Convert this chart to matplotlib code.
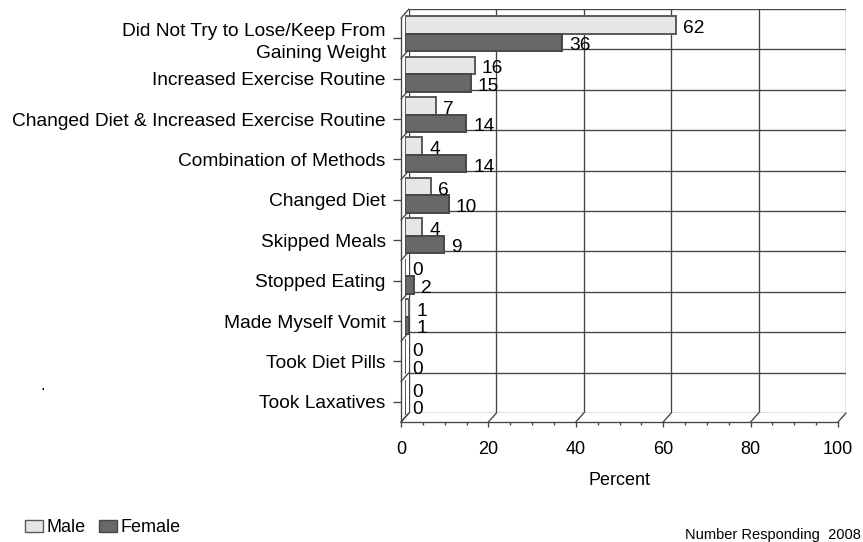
import matplotlib
matplotlib.use("Agg")
import matplotlib.pyplot as plt
from matplotlib.patches import Patch, ConnectionPatch
import numpy as np

plt.rcParams['font.family'] = ['Liberation Sans', 'DejaVu Sans']

categories = [
    "Did Not Try to Lose/Keep From\nGaining Weight",
    "Increased Exercise Routine",
    "Changed Diet & Increased Exercise Routine",
    "Combination of Methods",
    "Changed Diet",
    "Skipped Meals",
    "Stopped Eating",
    "Made Myself Vomit",
    "Took Diet Pills",
    "Took Laxatives",
]
male = [62, 16, 7, 4, 6, 4, 0, 1, 0, 0]
female = [36, 15, 14, 14, 10, 9, 2, 1, 0, 0]
x_ticks = [0, 20, 40, 60, 80, 100]

W, H = 863, 542
fig = plt.figure(figsize=(W / 100, H / 100), dpi=100)

GRID = "#444444"
MALE_FILL, MALE_EDGE = "#e6e6e6", "#5a5a5a"
FEM_FILL, FEM_EDGE = "#686868", "#474747"


def px_axes(left, top, width, height):
    return fig.add_axes([left / W, (H - top - height) / H, width / W, height / H])


n = len(categories)
span_w, span_h = 437, 404

# back wall, bar plane (half depth) and front plane
ax_back = px_axes(409, 9, span_w, span_h)
ax_bars = px_axes(405, 13.5, span_w, span_h)
ax_front = px_axes(401, 18, span_w, span_h)

for a in (ax_back, ax_bars, ax_front):
    a.set_xlim(0, 100)
    a.set_ylim(n, 0)
    a.patch.set_alpha(0)

# back wall grid
ax_back.set_zorder(0)
ax_back.set_axis_off()
ax_back.vlines(x_ticks, 0, n, color=GRID, lw=0.95)
ax_back.hlines(np.arange(n + 1), 0, 100, color=GRID, lw=0.95)

# side wall and floor edges joining the front plane to the back wall
for k in range(n + 1):
    fig.add_artist(ConnectionPatch((0, k), (0, k), ax_front.transData, ax_back.transData,
                                   color=GRID, lw=0.95))
for xv in x_ticks:
    fig.add_artist(ConnectionPatch((xv, n), (xv, n), ax_front.transData, ax_back.transData,
                                   color=GRID, lw=0.95))

# bars
ax_bars.set_zorder(2)
ax_bars.set_axis_off()
rows = np.arange(n) + 0.5
bh = 0.433
ax_bars.barh(rows - bh / 2, male, height=bh, color=MALE_FILL, edgecolor=MALE_EDGE, lw=1.4)
ax_bars.barh(rows + bh / 2, female, height=bh, color=FEM_FILL, edgecolor=FEM_EDGE, lw=1.4)
for y, v in zip(rows - bh / 2, male):
    ax_bars.annotate(f"{v}", (v, y), xytext=(5, -2.5), textcoords="offset points",
                     ha="left", va="center", fontsize=13.8, color="black")
for y, v in zip(rows + bh / 2, female):
    ax_bars.annotate(f"{v}", (v, y), xytext=(5, -2.5), textcoords="offset points",
                     ha="left", va="center", fontsize=13.8, color="black")

# front axes: category labels and percent scale
ax_front.set_zorder(1)
for s in ("top", "right"):
    ax_front.spines[s].set_visible(False)
for s in ("left", "bottom"):
    ax_front.spines[s].set_color(GRID)
    ax_front.spines[s].set_linewidth(0.95)
ax_front.set_xticks(x_ticks)
ax_front.set_xticks(np.arange(0, 101, 5), minor=True)
ax_front.tick_params(axis="x", which="major", length=3.5, width=0.95, color=GRID,
                     labelsize=13, pad=10)
ax_front.tick_params(axis="x", which="minor", length=2.5, width=0.95, color=GRID)
ax_front.set_yticks(rows)
ax_front.set_yticklabels(categories, ha="right", multialignment="right", linespacing=1.4)
ax_front.tick_params(axis="y", length=6, width=0.95, color=GRID, labelsize=13.8, pad=5)
ax_front.set_xlabel("Percent", fontsize=13, labelpad=10)

# legend and note
handles = [Patch(facecolor=MALE_FILL, edgecolor=MALE_EDGE, lw=1.0, label="Male"),
           Patch(facecolor=FEM_FILL, edgecolor=FEM_EDGE, lw=1.0, label="Female")]
fig.legend(handles=handles, loc="center left", bbox_to_anchor=(25 / W, 1 - 528 / H),
           ncol=2, frameon=False, fontsize=13, handlelength=1.0, handleheight=0.6,
           handletextpad=0.2, columnspacing=0.75, borderpad=0, borderaxespad=0)
fig.text(861 / W, 1 - 539 / H, "Number Responding  2008", ha="right", va="baseline",
         fontsize=10.5)
fig.text(43 / W, 1 - 390 / H, ".", ha="center", va="baseline", fontsize=12)

fig.savefig("out.png", dpi=100)
